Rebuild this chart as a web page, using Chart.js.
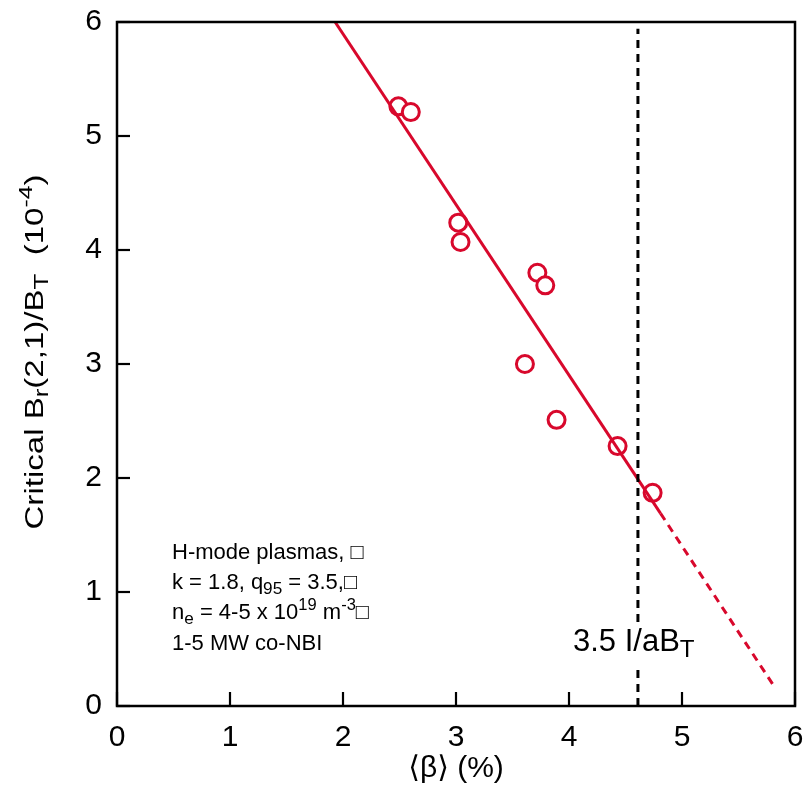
<!DOCTYPE html>
<html>
<head>
<meta charset="utf-8">
<script src="https://cdn.jsdelivr.net/npm/chart.js@4"></script>
<style>
  html, body { margin: 0; padding: 0; background: #fff; }
  #wrap { width: 807px; height: 806px; }
</style>
</head>
<body>
<div id="wrap"><canvas id="betaChart" width="807" height="806"></canvas></div>
<script>
// data
const betaVals = [2.49, 2.60, 3.02, 3.04, 3.72, 3.79, 3.61, 3.89, 4.43, 4.74];
const brVals   = [5.26, 5.21, 4.24, 4.07, 3.80, 3.69, 3.00, 2.51, 2.28, 1.87];
const fitSolidX = [1.93, 4.81];
const fitSolidY = [6.00, 1.69];
const fitDashX = [4.81, 5.83];
const fitDashY = [1.69, 0.15];
const limitX = [4.61, 4.61];
const limitY = [0, 5.94];
const xTicks = [0, 1, 2, 3, 4, 5, 6];
const yTicks = [0, 1, 2, 3, 4, 5, 6];

const RED = '#d8082c';
const FONT = '"Liberation Sans", Arial, "DejaVu Sans", sans-serif';

function pairs(xs, ys) {
  return xs.map((x, i) => ({ x: x, y: ys[i] }));
}

// draw text made of normal / sub / sup pieces
function drawRuns(ctx, x, y, runs, size) {
  let cx = x;
  runs.forEach(r => {
    const kind = r[1] || 'n';
    let s = size, dy = 0;
    if (kind === 'sub') { s = size * 0.78; dy = size * 0.28; }
    if (kind === 'sup') { s = size * 0.75; dy = -size * 0.36; }
    ctx.font = s + 'px ' + FONT;
    ctx.fillText(r[0], cx, y + dy);
    cx += ctx.measureText(r[0]).width;
  });
  return cx - x;
}
function runsWidth(ctx, runs, size) {
  let w = 0;
  runs.forEach(r => {
    const kind = r[1] || 'n';
    const s = kind === 'n' ? size : (kind === 'sub' ? size * 0.78 : size * 0.75);
    ctx.font = s + 'px ' + FONT;
    w += ctx.measureText(r[0]).width;
  });
  return w;
}

const decorPlugin = {
  id: 'decor',
  afterDraw(chart) {
    const ctx = chart.ctx;
    const a = chart.chartArea;
    const xs = chart.scales.x, ys = chart.scales.y;
    ctx.save();
    // frame
    ctx.strokeStyle = '#000';
    ctx.lineWidth = 2.5;
    ctx.strokeRect(a.left, a.top, a.right - a.left, a.bottom - a.top);
    // inward ticks
    ctx.lineWidth = 2.2;
    xTicks.forEach(v => {
      const px = xs.getPixelForValue(v);
      ctx.beginPath(); ctx.moveTo(px, a.bottom); ctx.lineTo(px, a.bottom - 14); ctx.stroke();
    });
    yTicks.forEach(v => {
      const py = ys.getPixelForValue(v);
      ctx.beginPath(); ctx.moveTo(a.left, py); ctx.lineTo(a.left + 13, py); ctx.stroke();
    });

    ctx.fillStyle = '#000';
    ctx.textBaseline = 'middle';
    ctx.textAlign = 'left';

    // x title
    ctx.font = '30px ' + FONT;
    ctx.textAlign = 'center';
    ctx.fillText('\u27E8\u03B2\u27E9 (%)', (a.left + a.right) / 2, 769);
    ctx.textAlign = 'left';

    // y title (rotated, stretched along its length like the original)
    const yRuns = [['Critical B'], ['r', 'sub'], ['(2,1)/B'], ['T', 'sub'], ['  (10'], ['-4', 'sup'], [')']];
    ctx.save();
    ctx.translate(36, 352);
    ctx.rotate(-Math.PI / 2);
    const w = runsWidth(ctx, yRuns, 25);
    ctx.scale(355 / w, 1);
    drawRuns(ctx, -w / 2, 0, yRuns, 25);
    ctx.restore();

    // annotation block
    const fs = 22;
    drawRuns(ctx, 172, 553, [['H-mode plasmas, \u25A1']], fs);
    drawRuns(ctx, 172, 583, [['k = 1.8, q'], ['95', 'sub'], [' = 3.5,\u25A1']], fs);
    drawRuns(ctx, 172, 613, [['n'], ['e', 'sub'], [' = 4-5 x 10'], ['19', 'sup'], [' m'], ['-3', 'sup'], ['\u25A1']], fs);
    drawRuns(ctx, 172, 644, [['1-5 MW co-NBI']], fs);

    // limit label, on a white patch that hides the dashed line behind it
    const labRuns = [['3.5 I/aB'], ['T', 'sub']];
    const lw = runsWidth(ctx, labRuns, 31);
    ctx.fillStyle = '#fff';
    ctx.fillRect(570, 622, lw + 8, 44);
    ctx.fillStyle = '#000';
    drawRuns(ctx, 573, 642, labRuns, 31);
    ctx.restore();
  }
};

const ctx = document.getElementById('betaChart').getContext('2d');
const betaChart = new Chart(ctx, {
  type: 'scatter',
  data: {
    datasets: [
      {
        label: 'limit',
        type: 'line',
        data: pairs(limitX, limitY),
        borderColor: '#000',
        borderWidth: 3,
        borderDash: [8, 6],
        pointRadius: 0,
        fill: false
      },
      {
        label: 'fit',
        type: 'line',
        data: pairs(fitSolidX, fitSolidY),
        borderColor: RED,
        borderWidth: 3,
        pointRadius: 0,
        fill: false
      },
      {
        label: 'fit extrapolated',
        type: 'line',
        data: pairs(fitDashX, fitDashY),
        borderColor: RED,
        borderWidth: 3,
        borderDash: [8, 6],
        pointRadius: 0,
        fill: false
      },
      {
        label: 'data',
        data: pairs(betaVals, brVals),
        pointStyle: 'circle',
        pointRadius: 8.5,
        pointBorderWidth: 3,
        pointBorderColor: RED,
        pointBackgroundColor: '#fff',
        showLine: false
      }
    ]
  },
  options: {
    responsive: false,
    animation: false,
    layout: { padding: { top: 22, right: 12, left: 0, bottom: 0 } },
    plugins: {
      legend: { display: false },
      tooltip: { enabled: false }
    },
    scales: {
      x: {
        type: 'linear',
        min: 0, max: 6,
        afterBuildTicks: s => { s.ticks = xTicks.map(v => ({ value: v })); },
        ticks: { color: '#000', font: { size: 30, family: FONT }, padding: 14, maxRotation: 0 },
        grid: { drawOnChartArea: false, drawTicks: false },
        border: { display: false },
        afterFit: s => { s.height = 100; s.paddingLeft = 0; s.paddingRight = 0; }
      },
      y: {
        type: 'linear',
        min: 0, max: 6,
        afterBuildTicks: s => { s.ticks = yTicks.map(v => ({ value: v })); },
        ticks: { color: '#000', font: { size: 30, family: FONT }, padding: 15 },
        grid: { drawOnChartArea: false, drawTicks: false },
        border: { display: false },
        afterFit: s => { s.width = 117; s.paddingTop = 0; s.paddingBottom = 0; }
      }
    }
  },
  plugins: [decorPlugin]
});
</script>
</body>
</html>
